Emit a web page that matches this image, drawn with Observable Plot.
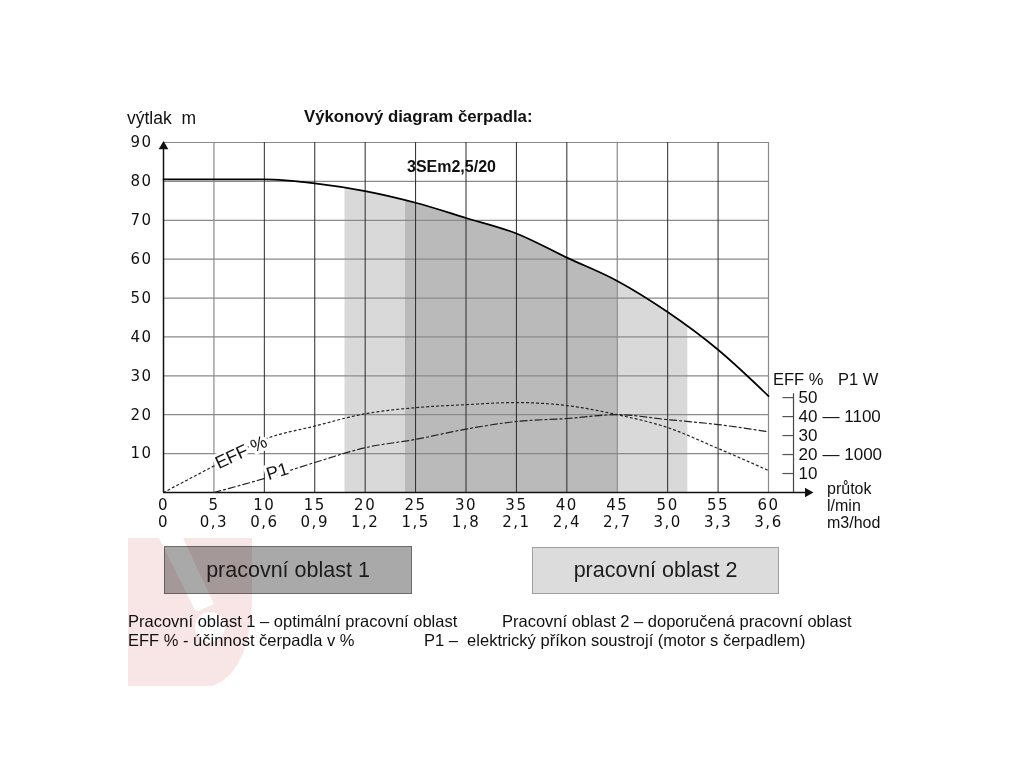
<!DOCTYPE html>
<html>
<head>
<meta charset="utf-8">
<script src="https://cdn.jsdelivr.net/npm/d3@7"></script>
<script src="https://cdn.jsdelivr.net/npm/@observablehq/plot@0.6"></script>
<style>
  html, body { margin: 0; padding: 0; background: #fff; }
  body { width: 1024px; height: 768px; position: relative; overflow: hidden;
         font-family: "Liberation Sans", Arial, sans-serif; color: #111; }
  .t { position: absolute; white-space: pre; line-height: 1; transform: translateY(-50%); }
  .box { position: absolute; box-sizing: border-box; display: flex; align-items: center;
         justify-content: center; font-size: 21.5px; color: #1c1c1c; }
  #chart { position: absolute; left: 0; top: 0; }
  #wm { position: absolute; left: 0; top: 0; pointer-events: none; mix-blend-mode: multiply; }
</style>
</head>
<body>
<div id="chart"></div>

<div class="t" style="left:127px;top:119px;font-size:17.5px;">výtlak  m</div>
<div class="t" style="left:304px;top:117px;font-size:16.8px;font-weight:bold;">Výkonový diagram čerpadla:</div>
<div class="t" style="left:407px;top:167px;font-size:16px;font-weight:bold;">3SEm2,5/20</div>

<div class="t" style="left:773px;top:379px;font-size:16.5px;">EFF %</div>
<div class="t" style="left:838px;top:379px;font-size:16.5px;">P1 W</div>
<div class="t" style="left:827px;top:489px;font-size:16px;">průtok</div>
<div class="t" style="left:827px;top:506px;font-size:16px;">l/min</div>
<div class="t" style="left:827px;top:523px;font-size:16px;">m3/hod</div>

<div class="box" style="left:164px;top:546px;width:248px;height:48px;background:#a9a9a9;border:1px solid #6a6a6a;">pracovní oblast 1</div>
<div class="box" style="left:532px;top:547px;width:247px;height:47px;background:#dcdcdc;border:1px solid #a0a0a0;">pracovní oblast 2</div>

<div class="t" style="left:128px;top:621px;font-size:16.5px;">Pracovní oblast 1 – optimální pracovní oblast</div>
<div class="t" style="left:502px;top:621px;font-size:16.5px;">Pracovní oblast 2 – doporučená pracovní oblast</div>
<div class="t" style="left:128px;top:640px;font-size:16.5px;">EFF % - účinnost čerpadla v %</div>
<div class="t" style="left:424px;top:640px;font-size:16.5px;">P1 –  elektrický příkon soustrojí (motor s čerpadlem)</div>

<svg id="wm" width="1024" height="768">
  <defs>
    <mask id="wmMask" maskUnits="userSpaceOnUse" x="0" y="0" width="1024" height="768">
      <rect x="0" y="0" width="1024" height="768" fill="white"/>
      <polygon points="158,536 182,536 214,604 196,612" fill="black"/>
      <circle cx="210" cy="627" r="15" fill="black"/>
    </mask>
  </defs>
  <path d="M128,538 L252,538 L252,600 Q250,672 212,686 L128,686 Z" fill="#d05050" fill-opacity="0.15" mask="url(#wmMask)"/>
</svg>

<script>
// ---- data ----
const flowLmin = [0, 5, 10, 15, 20, 25, 30, 35, 40, 45, 50, 55, 60];
const flowM3h  = ["0", "0,3", "0,6", "0,9", "1,2", "1,5", "1,8", "2,1", "2,4", "2,7", "3,0", "3,3", "3,6"];
const headM    = [80.5, 80.5, 80.5, 79.5, 77.5, 74.5, 70.6, 66.6, 60.4, 54.4, 46.4, 36.7, 24.8];
const effPct   = [0, 14, 28, 35, 41.5, 44.7, 46.3, 47.4, 45.8, 41, 34.2, 23.2, 11.6];
const p1Flow   = [5, 10, 15, 20, 25, 30, 35, 40, 45, 50, 55, 60];
const p1W      = [900, 937, 979, 1018, 1040, 1067, 1087, 1095, 1105, 1092, 1079, 1060];
const headTicks = [10, 20, 30, 40, 50, 60, 70, 80, 90];
const effTicks  = [10, 20, 30, 40, 50];
const p1Ticks   = [1000, 1100];
const zone1 = [24, 45];   // pracovní oblast 1
const zone2 = [18, 52];   // pracovní oblast 2

// secondary axis: EFF 50 % sits at 24.4 m; P1 1000 W = EFF 20 %, 1100 W = EFF 40 %
const effToM = e => e / 50 * 24.4;
const p1ToM = p => effToM(20 + (p - 1000) / 5);

const headRows = flowLmin.map((f, i) => ({flow: f, head: headM[i]}));
const effRows  = flowLmin.map((f, i) => ({flow: f, eff: effPct[i]}));
const p1Rows   = p1Flow.map((f, i) => ({flow: f, p1: p1W[i]}));
const m3Rows   = flowLmin.map((f, i) => ({flow: f, label: flowM3h[i]}));

const RIGHT_AXIS = 62.48;
const lightGrid = new Set([5, 45, 60]);
const tickFont = {fontFamily: "DejaVu Sans", fontSize: 15, fill: "#111"};
const sideFont = {fontFamily: "Liberation Sans", fontSize: 17, fill: "#111"};
const curveLabels = [
  {text: "EFF %", flow: 7.7, head: 10.3, angle: -25},
  {text: "P1", flow: 11.3, head: 5.4, angle: -17}
];

const plot = Plot.plot({
  width: 1024, height: 560,
  marginLeft: 163, marginRight: 256, marginTop: 142, marginBottom: 68,
  x: {domain: [0, 60], axis: null},
  y: {domain: [0, 90], axis: null},
  style: {background: "transparent", fontFamily: "Liberation Sans, Arial, sans-serif"},
  marks: [
    Plot.areaY(headRows, {x: "flow", y: "head", fill: "#d9d9d9", curve: "monotone-x"}),
    Plot.areaY(headRows, {x: "flow", y: "head", fill: "#bababa", curve: "monotone-x"}),
    Plot.ruleY(headTicks, {x1: 0, x2: 60, stroke: "#8a8a8a", strokeWidth: 1.2}),
    Plot.ruleX(flowLmin.filter(d => d > 0 && !lightGrid.has(d)), {y1: 0, y2: 90, stroke: "#2a2a2a", strokeWidth: 1}),
    Plot.ruleX(flowLmin.filter(d => lightGrid.has(d)), {y1: 0, y2: 90, stroke: "#8a8a8a", strokeWidth: 1.2}),
    // axes
    Plot.ruleX([0], {y1: 0, y2: 89, stroke: "#111", strokeWidth: 1.5}),
    Plot.ruleY([0], {x1: 0, x2: 63.9, stroke: "#111", strokeWidth: 1.5}),
    Plot.dot([{flow: 0, head: 90}], {x: "flow", y: "head", symbol: "triangle", r: 3.6, fill: "#111", stroke: null, dy: 4}),
    Plot.dot([{flow: 63.9, head: 0}], {x: "flow", y: "head", symbol: "triangle", r: 3.6, fill: "#111", stroke: null, rotate: 90}),
    // curves
    Plot.line(headRows, {x: "flow", y: "head", stroke: "#000", strokeWidth: 1.7, curve: "monotone-x"}),
    Plot.line(effRows, {x: "flow", y: d => effToM(d.eff), stroke: "#222", strokeWidth: 1.2, strokeDasharray: "2,3", curve: "monotone-x"}),
    Plot.line(p1Rows, {x: "flow", y: d => p1ToM(d.p1), stroke: "#222", strokeWidth: 1.2, strokeDasharray: "7,3,2,3", curve: "monotone-x"}),
    // curve labels with white halo
    Plot.text(curveLabels, {x: "flow", y: "head", text: "text", rotate: d => d.angle, fontSize: 18, fontFamily: "Liberation Sans", fill: "white", stroke: "white", strokeWidth: 6}),
    Plot.text(curveLabels, {x: "flow", y: "head", text: "text", rotate: d => d.angle, fontSize: 18, fontFamily: "Liberation Sans", fill: "#111"}),
    // left tick labels
    Plot.text(headTicks, {x: 0, y: d => d, text: String, dx: -11, textAnchor: "end", ...tickFont}),
    // bottom tick labels
    Plot.text(flowLmin, {x: d => d, y: 0, text: String, dy: 13, ...tickFont}),
    Plot.text(m3Rows, {x: "flow", y: 0, text: "label", dy: 30, ...tickFont}),
    // secondary axis (EFF %, P1 W)
    Plot.ruleX([RIGHT_AXIS], {y1: 0, y2: effToM(52), stroke: "#444", strokeWidth: 1.2}),
    Plot.ruleY(effTicks, {y: effToM, x1: RIGHT_AXIS - 1.05, x2: RIGHT_AXIS, stroke: "#555", strokeWidth: 1.2}),
    Plot.text(effTicks, {x: RIGHT_AXIS, y: effToM, text: String, dx: 5, textAnchor: "start", ...sideFont}),
    Plot.text(p1Ticks, {x: RIGHT_AXIS, y: p1ToM, text: d => "— " + d, dx: 29, textAnchor: "start", ...sideFont})
  ]
});

document.getElementById("chart").appendChild(plot);

// clip the two shaded working regions to their flow ranges
const sx = plot.scale("x"), sy = plot.scale("y");
const xs = d3.scaleLinear(sx.domain, sx.range);
const ys = d3.scaleLinear(sy.domain, sy.range);
const ns = "http://www.w3.org/2000/svg";
const defs = document.createElementNS(ns, "defs");
plot.insertBefore(defs, plot.firstChild);
[[zone2, "clipZone2"], [zone1, "clipZone1"]].forEach(([z, id]) => {
  const cp = document.createElementNS(ns, "clipPath");
  cp.setAttribute("id", id);
  const r = document.createElementNS(ns, "rect");
  r.setAttribute("x", xs(z[0]));
  r.setAttribute("width", xs(z[1]) - xs(z[0]));
  r.setAttribute("y", ys(90));
  r.setAttribute("height", ys(0) - ys(90));
  cp.appendChild(r);
  defs.appendChild(cp);
});
const areas = plot.querySelectorAll('g[aria-label="area"]');
if (areas.length >= 2) {
  areas[0].setAttribute("clip-path", "url(#clipZone2)");
  areas[1].setAttribute("clip-path", "url(#clipZone1)");
}
plot.querySelectorAll('g[font-family="DejaVu Sans"]').forEach(g => g.setAttribute("letter-spacing", "1.5"));
</script>
</body>
</html>
